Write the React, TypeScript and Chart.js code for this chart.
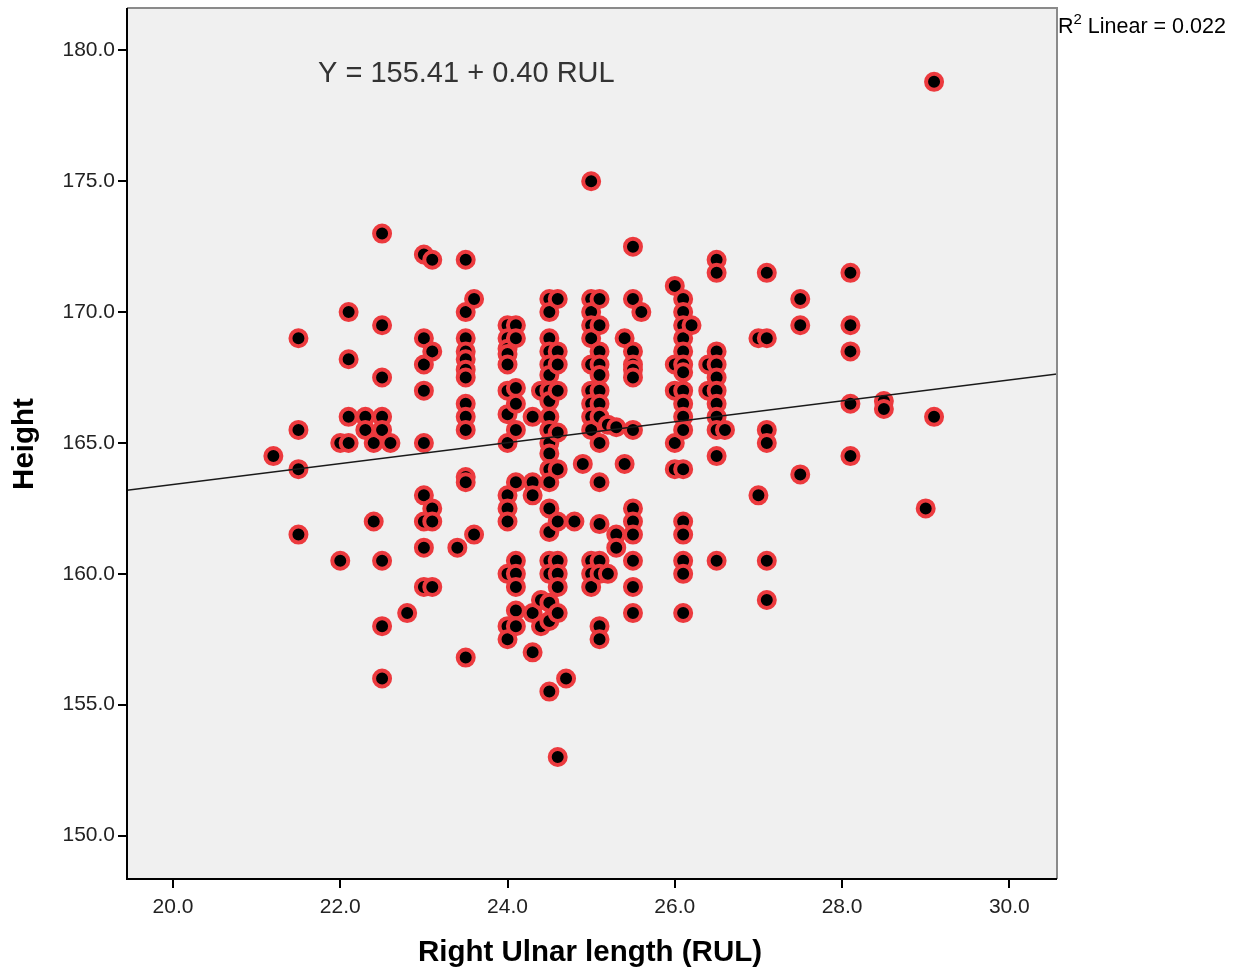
import React, { useEffect, useRef } from "react";
import { Chart, registerables } from "chart.js";

Chart.register(...registerables);

// Right ulnar length (cm) columns and the heights (cm) observed at each
const RUL_VALUES: number[] = [
  21.2, 21.5, 22.0, 22.1, 22.3, 22.4, 22.5, 22.6, 22.8, 23.0, 23.1, 23.4, 23.5, 23.6,
  24.0, 24.1, 24.3, 24.4, 24.5, 24.6, 24.7, 24.8, 24.9, 25.0, 25.1, 25.2, 25.3, 25.4,
  25.5, 25.6, 26.0, 26.1, 26.2, 26.4, 26.5, 26.6, 27.0, 27.1, 27.5, 28.1, 28.5, 29.0, 29.1,
];

const HEIGHTS_BY_RUL: number[][] = [
  [164.5],
  [169.0, 165.5, 164.0, 161.5],
  [165.0, 160.5],
  [170.0, 168.2, 166.0, 165.0],
  [166.0, 165.5],
  [165.0, 162.0],
  [173.0, 169.5, 167.5, 166.0, 165.5, 160.5, 158.0, 156.0],
  [165.0],
  [158.5],
  [172.2, 169.0, 168.0, 167.0, 165.0, 163.0, 162.0, 161.0, 159.5],
  [172.0, 168.5, 162.5, 162.0, 159.5],
  [161.0],
  [172.0, 170.0, 169.0, 168.5, 168.2, 167.8, 167.5, 166.5, 166.0, 165.5, 163.7, 163.5, 156.8],
  [170.5, 161.5],
  [169.5, 169.0, 168.6, 168.4, 168.0, 167.0, 166.1, 165.0, 163.0, 162.5, 162.0, 160.0, 158.0, 157.5],
  [169.5, 169.0, 167.1, 166.5, 165.5, 163.5, 160.5, 160.0, 159.5, 158.6, 158.0],
  [166.0, 163.5, 163.0, 158.5, 157.0],
  [167.0, 159.0, 158.0],
  [170.5, 170.0, 169.0, 168.5, 168.0, 167.6, 167.0, 166.6, 166.0, 165.5, 165.0, 164.6, 164.0, 163.5, 162.5, 161.6, 160.5, 160.0, 158.9, 158.2, 155.5],
  [170.5, 168.5, 168.0, 167.0, 165.4, 164.0, 162.0, 160.5, 160.0, 159.5, 158.5, 153.0],
  [156.0],
  [162.0],
  [164.2],
  [175.0, 170.5, 170.0, 169.5, 169.0, 168.0, 167.0, 166.5, 166.0, 165.5, 160.5, 160.0, 159.5],
  [170.5, 169.5, 168.5, 168.0, 167.6, 167.0, 166.5, 166.0, 165.0, 163.5, 161.9, 160.5, 160.0, 158.0, 157.5],
  [165.7, 160.0],
  [165.6, 161.5, 161.0],
  [169.0, 164.2],
  [172.5, 170.5, 168.5, 168.0, 167.8, 167.5, 165.5, 162.5, 162.0, 161.5, 160.5, 159.5, 158.5],
  [170.0],
  [171.0, 168.0, 167.0, 165.0, 164.0],
  [170.5, 170.0, 169.5, 169.0, 168.5, 168.0, 167.7, 167.0, 166.5, 166.0, 165.5, 164.0, 162.0, 161.5, 160.5, 160.0, 158.5],
  [169.5],
  [168.0, 167.0],
  [172.0, 171.5, 168.5, 168.0, 167.5, 167.0, 166.5, 166.0, 165.5, 164.5, 160.5],
  [165.5],
  [169.0, 163.0],
  [171.5, 169.0, 165.5, 165.0, 160.5, 159.0],
  [170.5, 169.5, 163.8],
  [171.5, 169.5, 168.5, 166.5, 164.5],
  [166.6, 166.3],
  [162.5],
  [178.8, 166.0],
];

const X_TICKS: number[] = [20, 22, 24, 26, 28, 30];
const Y_TICKS: number[] = [150, 155, 160, 165, 170, 175, 180];
const X_MIN = 19.45;
const X_MAX = 30.57;
const Y_MIN = 148.34;
const Y_MAX = 181.62;

const FIT_INTERCEPT = 155.41;
const FIT_SLOPE = 0.4;
const R_SQUARED = "0.022";
const EQUATION_TEXT = "Y = 155.41 + 0.40 RUL";
const X_TITLE = "Right Ulnar length (RUL)";
const Y_TITLE = "Height";

const FONT = "'Liberation Sans', Arial, sans-serif";

export default function App() {
  const canvasRef = useRef<HTMLCanvasElement | null>(null);

  useEffect(() => {
    const canvas = canvasRef.current;
    if (!canvas) return;

    const points: { x: number; y: number }[] = [];
    RUL_VALUES.forEach((x, i) => {
      HEIGHTS_BY_RUL[i].forEach((y) => points.push({ x, y }));
    });
    const fitLine = [
      { x: X_MIN, y: FIT_INTERCEPT + FIT_SLOPE * X_MIN },
      { x: X_MAX, y: FIT_INTERCEPT + FIT_SLOPE * X_MAX },
    ];

    const decor = {
      id: "spssDecor",
      beforeDraw(chart: any) {
        const { ctx, chartArea: a } = chart;
        ctx.save();
        ctx.fillStyle = "#ffffff";
        ctx.fillRect(0, 0, chart.width, chart.height);
        ctx.fillStyle = "#f0f0f0";
        ctx.fillRect(a.left, a.top, a.right - a.left, a.bottom - a.top);
        ctx.restore();
      },
      afterDraw(chart: any) {
        const { ctx, chartArea: a } = chart;
        ctx.save();
        // frame
        ctx.strokeStyle = "#8a8a8a";
        ctx.lineWidth = 2;
        ctx.beginPath();
        ctx.moveTo(a.left, a.top);
        ctx.lineTo(a.right, a.top);
        ctx.lineTo(a.right, a.bottom);
        ctx.stroke();
        ctx.strokeStyle = "#000000";
        ctx.beginPath();
        ctx.moveTo(a.left, a.top);
        ctx.lineTo(a.left, a.bottom);
        ctx.lineTo(a.right, a.bottom);
        ctx.stroke();

        // equation
        ctx.fillStyle = "#333333";
        ctx.font = `29px ${FONT}`;
        ctx.textAlign = "left";
        ctx.textBaseline = "alphabetic";
        ctx.fillText(EQUATION_TEXT, 318, 82);

        // R squared label
        ctx.fillStyle = "#000000";
        ctx.font = `21.5px ${FONT}`;
        ctx.fillText("R", 1058, 33);
        const rw = ctx.measureText("R").width;
        ctx.font = `15px ${FONT}`;
        ctx.fillText("2", 1058 + rw, 24);
        const sw = ctx.measureText("2").width;
        ctx.font = `21.5px ${FONT}`;
        ctx.fillText(` Linear = ${R_SQUARED}`, 1058 + rw + sw, 33);

        // axis titles
        ctx.font = `bold 29.5px ${FONT}`;
        ctx.textAlign = "center";
        ctx.textBaseline = "middle";
        ctx.fillText(X_TITLE, 590, 953);
        ctx.translate(25, 444);
        ctx.rotate(-Math.PI / 2);
        ctx.fillText(Y_TITLE, 0, 0);
        ctx.restore();
      },
    };

    const chart = new Chart(canvas, {
      type: "scatter",
      data: {
        datasets: [
          {
            type: "line",
            label: "Linear fit",
            data: fitLine,
            borderColor: "#1a1a1a",
            borderWidth: 1.5,
            pointRadius: 0,
            fill: false,
            order: 0,
          } as any,
          {
            label: "Height",
            data: points,
            backgroundColor: "#000000",
            borderColor: "rgb(236,58,62)",
            borderWidth: 4,
            pointRadius: 8,
            pointHoverRadius: 8,
            order: 1,
          },
        ],
      },
      plugins: [decor],
      options: {
        animation: false,
        responsive: false,
        maintainAspectRatio: false,
        devicePixelRatio: 1,
        layout: { autoPadding: false, padding: { left: 0, top: 8, right: 182, bottom: 0 } },
        plugins: {
          legend: { display: false },
          tooltip: { enabled: false },
        },
        scales: {
          x: {
            type: "linear",
            min: X_MIN,
            max: X_MAX,
            afterFit(scale: any) {
              scale.height = 93;
              scale.paddingLeft = 0;
              scale.paddingRight = 0;
            },
            afterBuildTicks(scale: any) {
              scale.ticks = X_TICKS.map((v) => ({ value: v }));
            },
            grid: {
              drawOnChartArea: false,
              drawTicks: true,
              tickLength: 9,
              color: "#000000",
              lineWidth: 2,
            },
            border: { display: false },
            ticks: {
              padding: 7,
              color: "#222222",
              font: { family: FONT, size: 21 },
              callback: (v: any) => Number(v).toFixed(1),
            },
          },
          y: {
            type: "linear",
            min: Y_MIN,
            max: Y_MAX,
            afterFit(scale: any) {
              scale.width = 127;
              scale.paddingTop = 0;
              scale.paddingBottom = 0;
            },
            afterBuildTicks(scale: any) {
              scale.ticks = Y_TICKS.map((v) => ({ value: v }));
            },
            grid: {
              drawOnChartArea: false,
              drawTicks: true,
              tickLength: 9,
              color: "#000000",
              lineWidth: 2,
            },
            border: { display: false },
            ticks: {
              padding: 3,
              color: "#222222",
              font: { family: FONT, size: 21 },
              callback: (v: any) => Number(v).toFixed(1),
            },
          },
        },
      },
    });

    return () => chart.destroy();
  }, []);

  return (
    <div style={{ position: "absolute", left: 0, top: 0, width: 1239, height: 972 }}>
      <canvas ref={canvasRef} width={1239} height={972} />
    </div>
  );
}
